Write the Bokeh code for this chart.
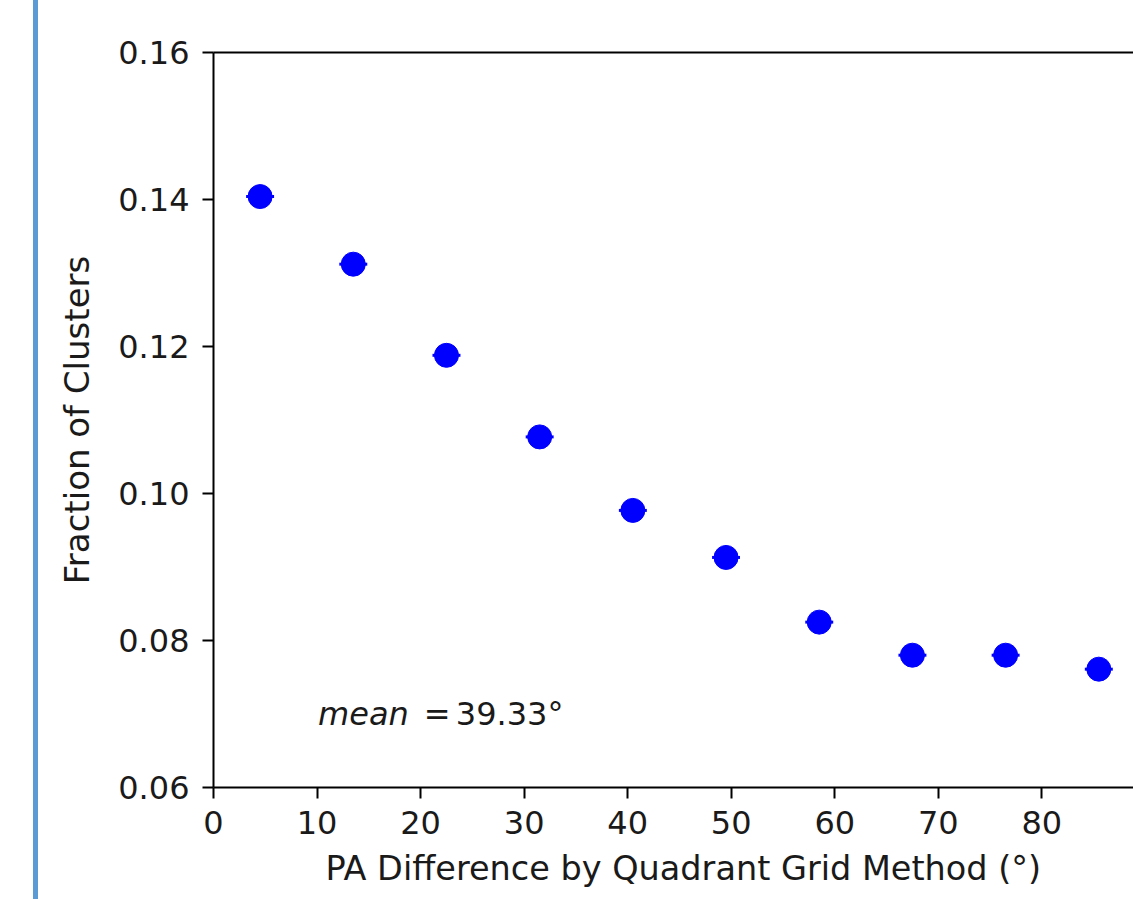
from bokeh.plotting import figure
from bokeh.models import (Range1d, Label, FixedTicker, ColumnDataSource, Title, Div, Spacer,
                          LinearAxis)
from bokeh.layouts import row
from bokeh.embed import file_html
from bokeh.resources import INLINE

# ---- data ----
pa_diff = [4.5, 13.5, 22.5, 31.5, 40.5, 49.5, 58.5, 67.5, 76.5, 85.5]
fraction = [0.1404, 0.1312, 0.1188, 0.1077, 0.0977, 0.0913, 0.0825, 0.0780, 0.0780, 0.0761]
x_ticks = [0, 10, 20, 30, 40, 50, 60, 70, 80]
y_ticks = [0.06, 0.08, 0.10, 0.12, 0.14, 0.16]
mean_value = 39.33
x_label = "PA Difference by Quadrant Grid Method (°)"
y_label = "Fraction of Clusters"

FONT = "DejaVu Sans"
TXT = "#1a1a1a"

H = 899
W_MAIN = 1095
p = figure(width=W_MAIN, height=H, output_backend="svg", toolbar_location=None,
           x_range=Range1d(0, 88.85), y_range=Range1d(0.06, 0.16),
           min_border_left=175, min_border_right=0, min_border_top=52, min_border_bottom=112)
p.background_fill_color = "white"
p.border_fill_color = "white"
p.outline_line_color = None
p.grid.visible = False

for ax in (p.xaxis[0], p.yaxis[0]):
    ax.axis_line_color = "black"
    ax.axis_line_width = 2
    ax.major_tick_line_color = "black"
    ax.major_tick_line_width = 2
    ax.major_tick_out = 11
    ax.major_tick_in = 0
    ax.minor_tick_line_color = None
    ax.major_label_text_font = FONT
    ax.major_label_text_font_size = "32px"
    ax.major_label_text_color = TXT

p.xaxis.ticker = FixedTicker(ticks=x_ticks)
p.yaxis.ticker = FixedTicker(ticks=y_ticks)
p.yaxis.major_label_overrides = {v: f"{v:.2f}" for v in y_ticks}
p.xaxis.major_label_standoff = 12
p.yaxis.major_label_standoff = 13

p.yaxis.axis_label = y_label
p.yaxis.axis_label_text_font = FONT
p.yaxis.axis_label_text_font_size = "34px"
p.yaxis.axis_label_text_font_style = "normal"
p.yaxis.axis_label_text_color = TXT
p.yaxis.axis_label_standoff = 18

# top frame line (plain axis without ticks or labels)
top_axis = LinearAxis(axis_line_color="black", axis_line_width=2,
                      major_tick_line_color=None, minor_tick_line_color=None,
                      major_label_text_font_size="0px", major_label_text_alpha=0)
p.add_layout(top_axis, "above")

# x-axis label as a title below (offset to the uncropped frame centre)
p.add_layout(Title(text=x_label, align="left", offset=112, text_font=FONT,
                   text_font_size="33.5px", text_font_style="normal", text_color=TXT,
                   text_line_height=0.9, vertical_align="bottom",
                   standoff=21), "below")

src = ColumnDataSource(dict(
    x=pa_diff, y=fraction,
    x0=[v - 1.35 for v in pa_diff], x1=[v + 1.35 for v in pa_diff]))
p.segment(x0="x0", y0="y", x1="x1", y1="y", source=src, line_color="#0000ff", line_width=3)
p.scatter(x="x", y="y", source=src, size=24, marker="circle",
          fill_color="#0000ff", line_color="#0000ff")

# annotation text
p.add_layout(Label(x=10.1, y=0.07, text="mean", text_font=FONT, text_font_size="32px",
                   text_font_style="italic", text_color=TXT, text_baseline="alphabetic"))
p.add_layout(Label(x=20.3, y=0.07, text="=", text_font=FONT, text_font_size="32px",
                   text_color=TXT, text_baseline="alphabetic"))
p.add_layout(Label(x=23.4, y=0.07, text=f"{mean_value:.2f}°", text_font=FONT,
                   text_font_size="32px", text_color=TXT, text_baseline="alphabetic"))

# page's blue side rule
rule = Div(text="", width=5, height=H, margin=0, styles={"background-color": "#5b9bd5"})
layout = row(Spacer(width=33, height=H, margin=0), rule, p)

open("out.html", "w").write(file_html(layout, INLINE))
